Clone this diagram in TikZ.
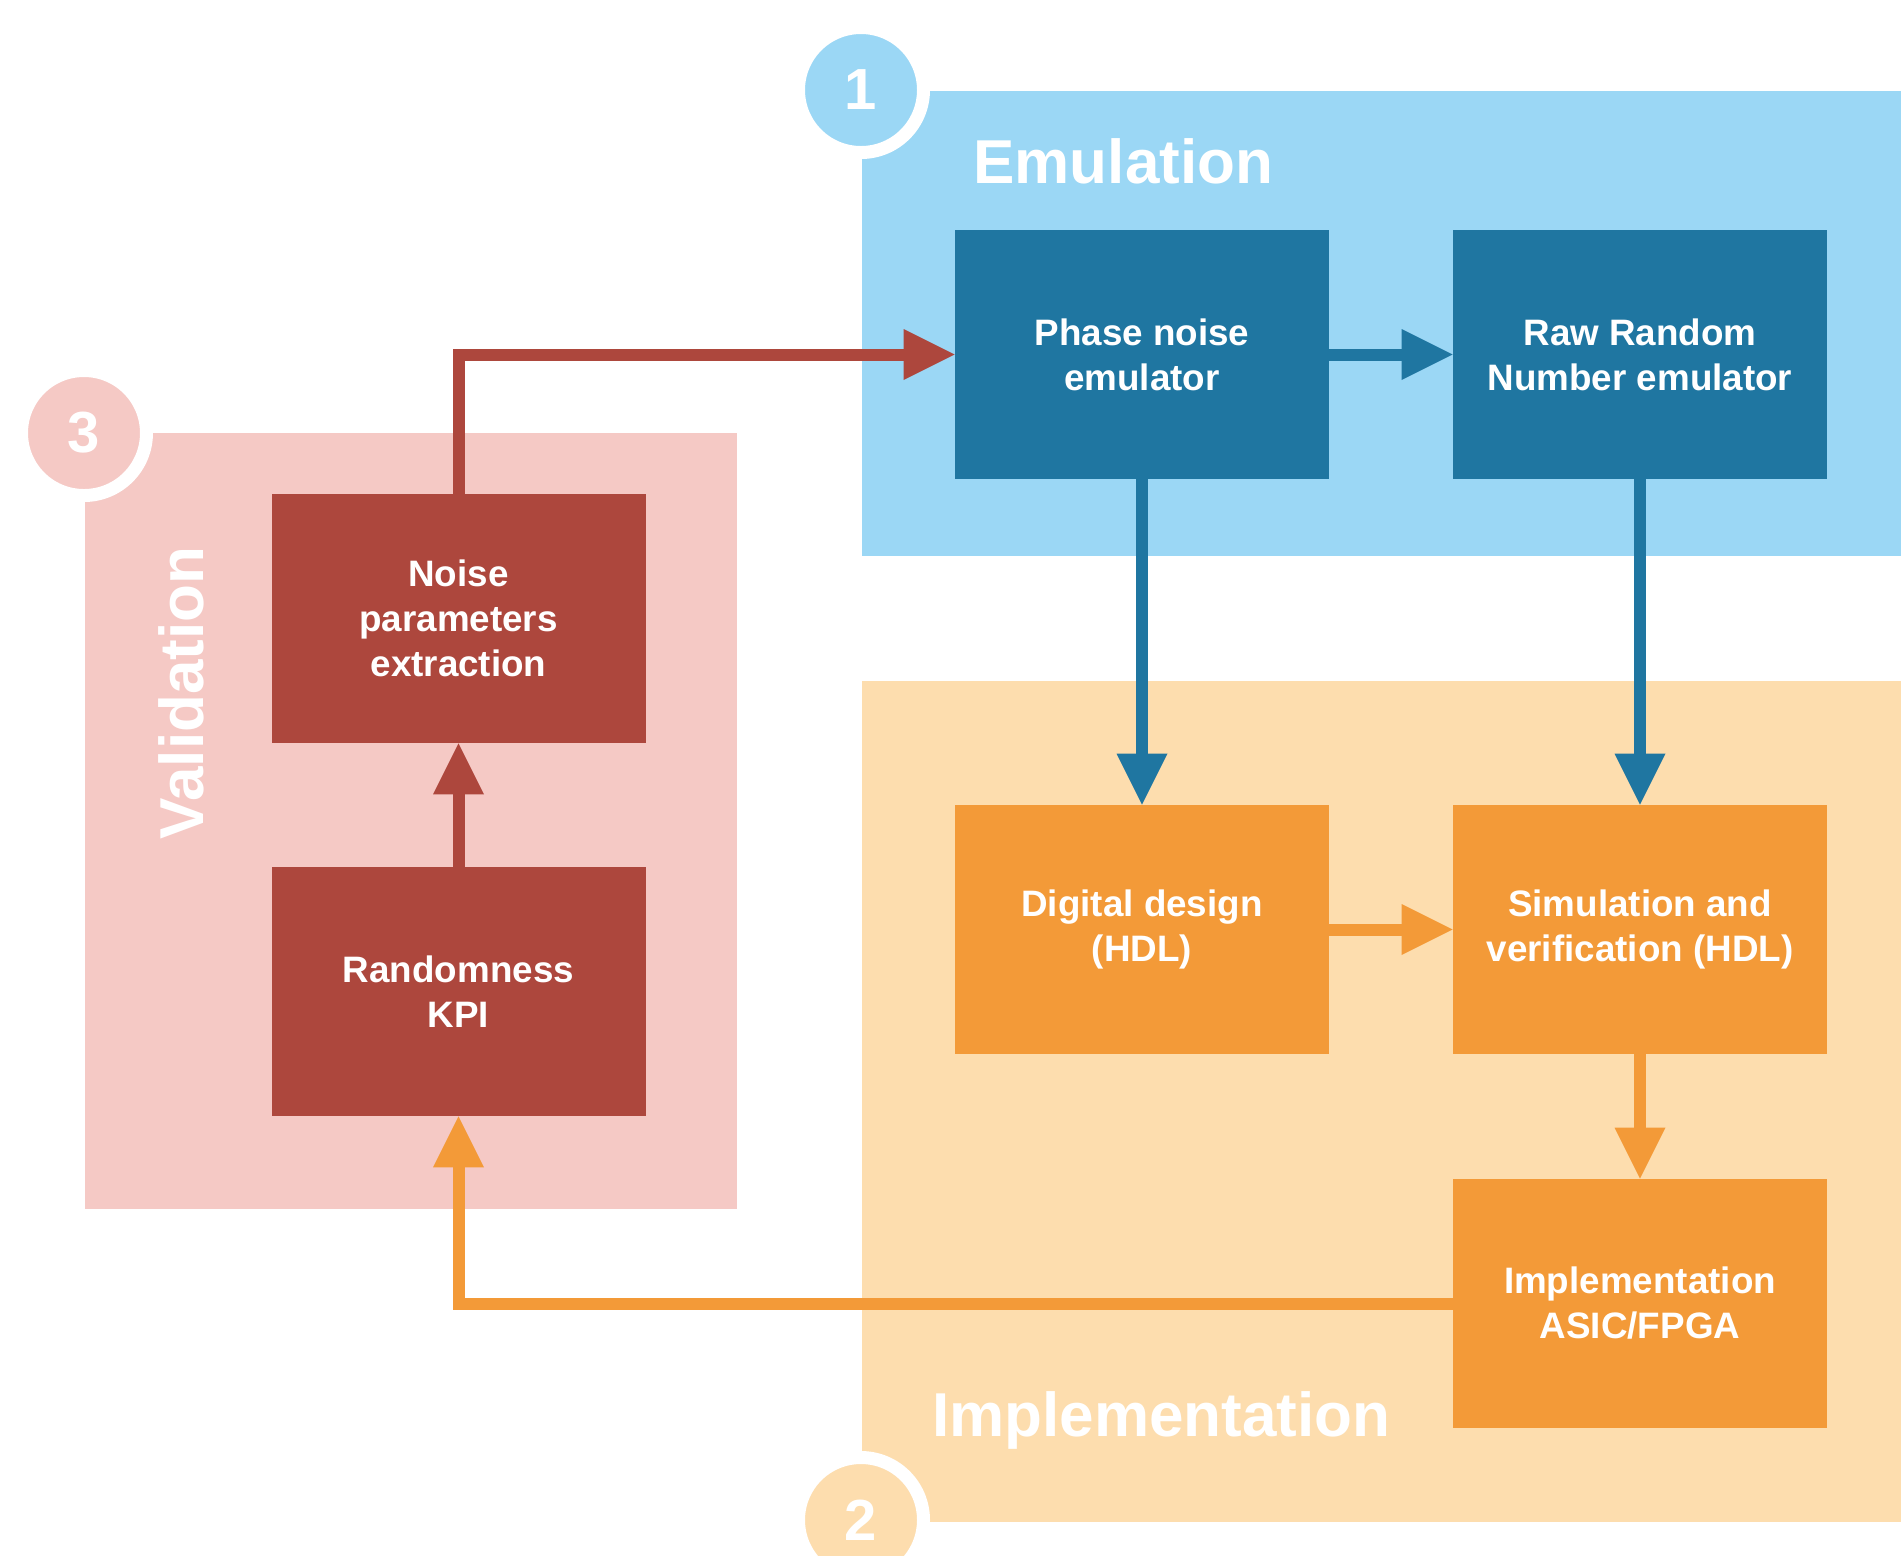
\documentclass[tikz,border=0pt]{standalone}
\usepackage{fontspec}
\setmainfont{Liberation Sans}
\usetikzlibrary{arrows.meta}

\definecolor{emulight}{HTML}{9BD7F5}
\definecolor{emudark}{HTML}{1F76A1}
\definecolor{impllight}{HTML}{FDDDAE}
\definecolor{impldark}{HTML}{F39A38}
\definecolor{vallight}{HTML}{F5C9C5}
\definecolor{valdark}{HTML}{AD473D}

\begin{document}
\begin{tikzpicture}[x=0.5pt,y=-0.5pt,
    box/.style = {rectangle, fill=#1, minimum width=187pt, minimum height=124.5pt,
            inner sep=0pt, align=center, text=white, font=\fontsize{18.4}{22.5}\selectfont\bfseries},
    badge/.style = {circle, fill=#1, draw=white, line width=6.5pt, minimum size=62.5pt,
            inner sep=0pt, text=white, font=\fontsize{29}{30}\selectfont\bfseries},
    heading/.style = {inner sep=0pt, anchor=base west, text=white, font=\fontsize{31}{34}\selectfont\bfseries},
    flow/.style = {draw=#1, line width=6pt, -{Triangle[length=25.5pt,width=25.5pt,line width=0pt]}}]
            \useasboundingbox (0,0) rectangle (1901,1555);
            \clip (0,0) rectangle (1901,1555);
            \fill[emulight] (862,91) rectangle (1901,556);
            \fill[impllight] (862,681) rectangle (1901,1522);
            \fill[vallight] (85,433) rectangle (737,1209);
            \node[badge=emulight] (one) at (861,90) {1};
            \node[badge=impllight] (two) at (861,1520) {2};
            \node[badge=vallight] (three) at (84,433) {3};
            \node[heading] (emu) at (973,183) {Emulation};
            \node[heading] (impl-title) at (932,1436) {Implementation};
            \node[heading,rotate=90] (val) at (203,840) {Validation};
            \node[box=emudark] (phase) at (1142,354.5) {Phase noise\\emulator};
            \node[box=emudark] (raw) at (1640,354.5) {Raw Random\\Number emulator};
            \node[box=impldark] (digital) at (1142,929.5) {Digital design\\(HDL)};
            \node[box=impldark] (sim) at (1640,929.5) {Simulation and\\verification (HDL)};
            \node[box=impldark] (impl) at (1640,1303.5) {Implementation\\ASIC/FPGA};
            \node[box=valdark] (noise) at (458.5,618.5) {Noise\\parameters\\extraction};
            \node[box=valdark] (kpi) at (458.5,991.5) {Randomness\\KPI};
            \draw[flow=valdark] (noise.north) |- (phase.west);
            \draw[flow=emudark] (phase.east) -- (raw.west);
            \draw[flow=emudark] (phase.south) -- (digital.north);
            \draw[flow=emudark] (raw.south) -- (sim.north);
            \draw[flow=impldark] (digital.east) -- (sim.west);
            \draw[flow=impldark] (sim.south) -- (impl.north);
            \draw[flow=impldark] (impl.west) -| (kpi.south);
            \draw[flow=valdark] (kpi.north) -- (noise.south);
        \end{tikzpicture}
\end{document}
